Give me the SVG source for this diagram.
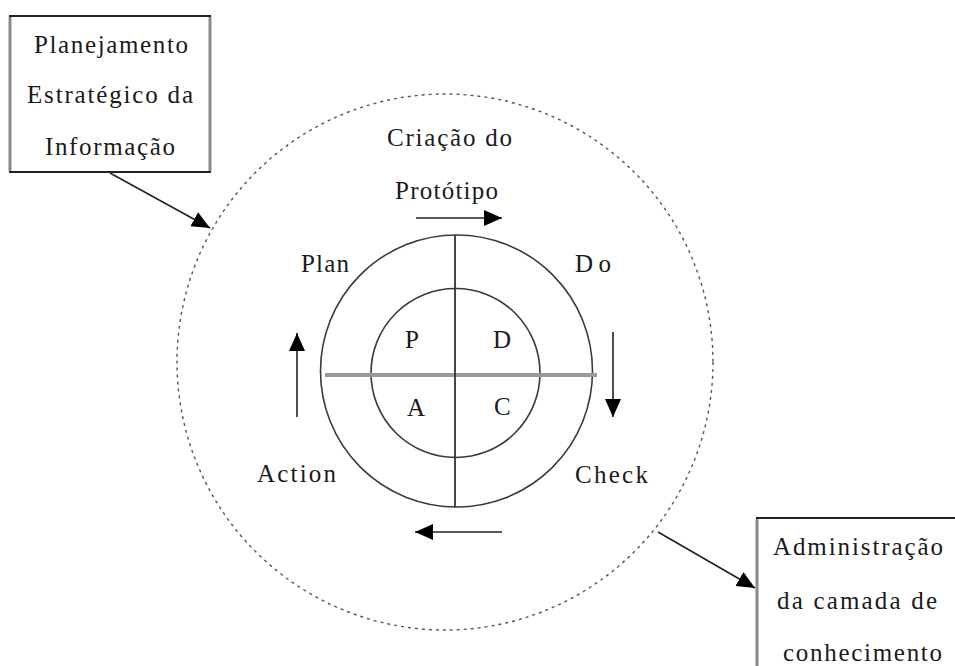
<svg xmlns="http://www.w3.org/2000/svg" width="955" height="666" viewBox="0 0 955 666">
  <style>
    .lbl { font-family: "Liberation Serif", "Times New Roman", serif; font-size: 25px; fill: #1a1a1a; }
    .box { fill: #ffffff; stroke: #222222; stroke-width: 2; }
    .side { stroke: #8a8a8a; stroke-width: 3; }
    .ring { fill: none; stroke: #3a3a3a; stroke-width: 1.6; }
    .conn { fill: none; stroke: #222222; stroke-width: 1.6; }
  </style>
  <defs>
    <marker id="head" viewBox="0 0 18 18" refX="18" refY="9" markerWidth="18" markerHeight="18" markerUnits="userSpaceOnUse" orient="auto">
      <path d="M0,1 L18,9 L0,17 Z" fill="#000000"/>
    </marker>
  </defs>
  <rect width="955" height="666" fill="#ffffff"/>

  <!-- outer dashed boundary -->
  <g id="boundary">
    <ellipse cx="445" cy="362" rx="268" ry="268" fill="none" stroke="#555555" stroke-width="1.4" stroke-dasharray="3 4"/>
  </g>

  <!-- PDCA wheel -->
  <g id="wheel">
    <circle class="ring" cx="456.5" cy="371" r="136"/>
    <circle class="ring" cx="455.5" cy="373" r="84.5"/>
    <line x1="325" y1="375" x2="597" y2="375" stroke="#9a9a9a" stroke-width="4"/>
    <line x1="455" y1="235" x2="455" y2="507" stroke="#333333" stroke-width="1.8"/>
    <text class="lbl" x="405" y="348" textLength="18">P</text>
    <text class="lbl" x="493" y="348" textLength="20">D</text>
    <text class="lbl" x="407" y="416" textLength="20">A</text>
    <text class="lbl" x="494" y="415" textLength="19">C</text>
  </g>

  <!-- phase labels -->
  <g id="phase-labels">
    <text class="lbl" x="387" y="146" textLength="125" lengthAdjust="spacing">Criação do</text>
    <text class="lbl" x="395" y="199" textLength="103" lengthAdjust="spacing">Protótipo</text>
    <text class="lbl" x="301" y="272" textLength="48" lengthAdjust="spacing">Plan</text>
    <text class="lbl" x="575" y="272" textLength="36" lengthAdjust="spacing">Do</text>
    <text class="lbl" x="257" y="482" textLength="79" lengthAdjust="spacing">Action</text>
    <text class="lbl" x="575" y="483" textLength="73" lengthAdjust="spacing">Check</text>
  </g>

  <!-- strategic planning box -->
  <g id="planejamento">
    <rect class="box" x="10" y="16" width="200" height="156"/>
    <line class="side" x1="10" y1="17" x2="10" y2="171"/>
    <line class="side" x1="210" y1="17" x2="210" y2="171"/>
    <text class="lbl" x="34" y="53" textLength="154" lengthAdjust="spacing">Planejamento</text>
    <text class="lbl" x="27" y="103" textLength="166" lengthAdjust="spacing">Estratégico da</text>
    <text class="lbl" x="45" y="155" textLength="130" lengthAdjust="spacing">Informação</text>
  </g>

  <!-- knowledge layer box -->
  <g id="administracao">
    <rect class="box" x="757" y="518" width="220" height="170"/>
    <line class="side" x1="757" y1="519" x2="757" y2="666"/>
    <text class="lbl" x="773" y="555" textLength="170" lengthAdjust="spacing">Administração</text>
    <text class="lbl" x="777" y="609" textLength="160" lengthAdjust="spacing">da camada de</text>
    <text class="lbl" x="783" y="661" textLength="159" lengthAdjust="spacing">conhecimento</text>
  </g>

  <!-- connectors and cycle arrows -->
  <g id="connectors">
    <line class="conn" x1="110" y1="173" x2="210" y2="228" marker-end="url(#head)"/>
    <line class="conn" x1="658" y1="532" x2="755" y2="588" marker-end="url(#head)"/>
    <line class="conn" x1="416" y1="218" x2="502" y2="218" marker-end="url(#head)"/>
    <line class="conn" x1="613" y1="332" x2="613" y2="417" marker-end="url(#head)"/>
    <line class="conn" x1="502" y1="532" x2="415" y2="532" marker-end="url(#head)"/>
    <line class="conn" x1="297" y1="417" x2="297" y2="333" marker-end="url(#head)"/>
  </g>
</svg>
